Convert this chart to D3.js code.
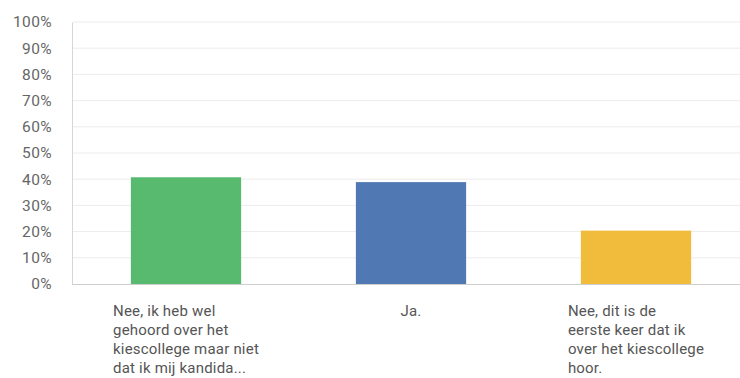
<!DOCTYPE html>
<html>
<head>
<meta charset="utf-8">
<script src="https://cdn.jsdelivr.net/npm/d3@7"></script>
<style>
  body { margin: 0; background: #fff; }
  text { font-family: Roboto, "Open Sans", sans-serif; }
</style>
</head>
<body>
<script>
'use strict'

var categories = ['a', 'b', 'c']
var labelLines = [
  ['Nee, ik heb wel', 'gehoord over het', 'kiescollege maar niet', 'dat ik mij kandida...'],
  ['Ja.'],
  ['Nee, dit is de', 'eerste keer dat ik', 'over het kiescollege', 'hoor.']
]
var values = [40.74, 38.89, 20.37]
var colors = ['#57ba6e', '#5079b3', '#f1bb3b']
var ticks = [0, 10, 20, 30, 40, 50, 60, 70, 80, 90, 100]

var width = 740
var height = 378

var svg = d3.select('body').append('svg')
  .attr('width', width)
  .attr('height', height)

var x = d3.scaleBand()
  .domain(categories)
  .range([73.5, 748.5])
  .paddingInner(0.51)
  .paddingOuter(0.255)

var y = d3.scaleLinear()
  .domain([0, 100])
  .range([284, 22])

// gridlines
svg.append('g')
  .selectAll('line')
  .data(ticks.slice(1))
  .enter().append('line')
  .attr('x1', 73)
  .attr('x2', 740)
  .attr('y1', function (d) { return y(d) })
  .attr('y2', function (d) { return y(d) })
  .attr('stroke', '#ececec')
  .attr('stroke-width', 1)

// y axis
var yAxis = svg.append('g')
  .attr('transform', 'translate(72,0)')
  .call(d3.axisLeft(y).tickValues(ticks).tickSize(0).tickPadding(20)
    .tickFormat(function (d) { return d + '%' }))
yAxis.select('.domain').attr('stroke', '#d6d6d6')
yAxis.selectAll('text')
  .attr('fill', '#666')
  .attr('font-size', null)
  .style('font-size', '15.5px')
  .style('letter-spacing', '0.4px')

// bars
svg.append('g')
  .selectAll('rect')
  .data(values)
  .enter().append('rect')
  .attr('x', function (d, i) { return x(categories[i]) })
  .attr('y', function (d) { return y(d) })
  .attr('width', x.bandwidth())
  .attr('height', function (d) { return y(0) - y(d) })
  .attr('fill', function (d, i) { return colors[i] })

// baseline
svg.append('line')
  .attr('x1', 72)
  .attr('x2', 740)
  .attr('y1', y(0) + 0.5)
  .attr('y2', y(0) + 0.5)
  .attr('stroke', '#cfcfcf')

// category labels: lines left-aligned, block centred under the bar
var lbl = svg.append('g')
  .selectAll('text')
  .data(labelLines)
  .enter().append('text')
  .attr('y', 316)
  .attr('fill', '#555')
  .style('font-size', '15px')
  .style('letter-spacing', '0.2px')

lbl.selectAll('tspan')
  .data(function (d) { return d })
  .enter().append('tspan')
  .attr('dy', function (d, i) { return i === 0 ? 0 : 19 })
  .text(function (d) { return d })

lbl.each(function (d, i) {
  var t = d3.select(this)
  var w = d3.max(t.selectAll('tspan').nodes(), function (n) { return n.getComputedTextLength() })
  var left = x(categories[i]) + x.bandwidth() / 2 - w / 2
  t.attr('x', left)
  t.selectAll('tspan').attr('x', left)
})
</script>
</body>
</html>
